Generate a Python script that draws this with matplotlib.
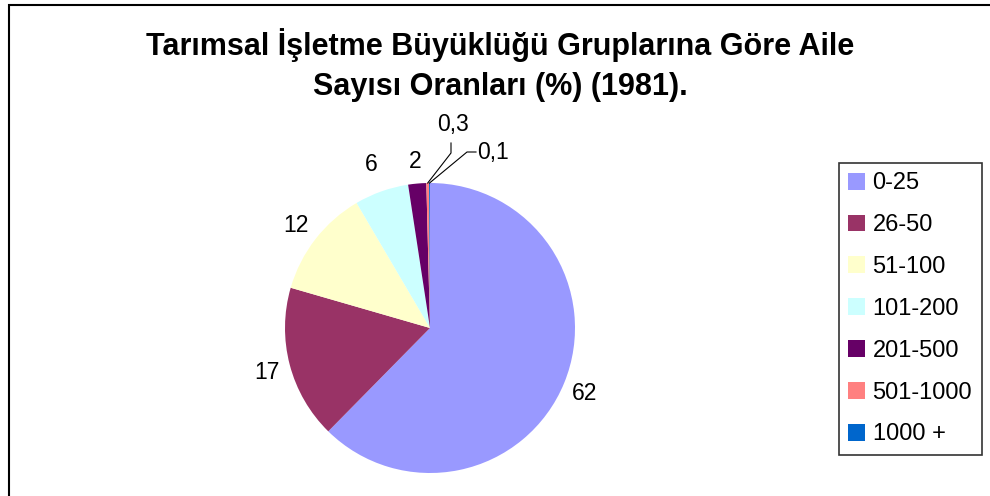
import numpy as np
import matplotlib
matplotlib.use("Agg")
import matplotlib.pyplot as plt
from matplotlib.patches import Rectangle

plt.rcParams['font.family'] = ['Liberation Sans', 'DejaVu Sans']

# Share of families by holding size group (%), 1981
groups = ['0-25', '26-50', '51-100', '101-200', '201-500', '501-1000', '1000 +']
shares = [62, 17, 12, 6, 2, 0.3, 0.1]
share_labels = ['62', '17', '12', '6', '2', '0,3', '0,1']
colors = ['#9999FF', '#993366', '#FFFFCC', '#CCFFFF', '#660066', '#FF8080', '#0066CC']

title = 'Tarımsal İşletme Büyüklüğü Gruplarına Göre Aile\nSayısı Oranları (%) (1981).'

W, H = 990, 496
fig = plt.figure(figsize=(W / 100, H / 100), dpi=100)
ax = fig.add_axes([0, 0, 1, 1])

cx, cy, r = 430, 168, 145
wedges, _ = ax.pie(shares, colors=colors, startangle=90, counterclock=False,
                   center=(cx, cy), radius=r, frame=True,
                   wedgeprops=dict(linewidth=0))
ax.set_xlim(0, W)
ax.set_ylim(0, H)
ax.set_aspect('equal')
ax.axis('off')

label_fs = 16.5

# value labels around the pie
dist = [1.15, 1.16, 1.17, 1.21, 1.17]
for w, lab, d in zip(wedges[:5], share_labels[:5], dist):
    ang = np.deg2rad((w.theta1 + w.theta2) / 2)
    ax.text(cx + r * d * np.cos(ang), cy + r * d * np.sin(ang) - 2, lab,
            ha='center', va='center', fontsize=label_fs)

# tiny slices get leader lines
def edge_point(w):
    ang = np.deg2rad((w.theta1 + w.theta2) / 2)
    return cx + r * np.cos(ang), cy + r * np.sin(ang)

x0, y0 = edge_point(wedges[5])
ax.plot([x0, 451, 451], [y0, 343, 353], color='black', lw=0.8)
ax.text(453, 372, share_labels[5], ha='center', va='center', fontsize=label_fs)

x1, y1 = edge_point(wedges[6])
ax.plot([x1, 467, 476], [y1, 344, 344], color='black', lw=0.8)
ax.text(477, 344, share_labels[6], ha='left', va='center', fontsize=label_fs)

# title
fig.text(0.505, 1 - 65 / H, title, ha='center', va='center', fontsize=22,
         fontweight='bold', linespacing=1.47)

# chart border
ax.add_patch(Rectangle((9, -20), W + 20, H - 5 + 20, fill=False,
                       edgecolor='black', lw=1.5, clip_on=False))

leg = ax.legend(wedges, groups, loc='upper left', bbox_to_anchor=(839, H - 163),
                bbox_transform=ax.transData, borderaxespad=0, fontsize=17,
                handlelength=0.72, handleheight=0.72, handletextpad=0.3,
                labelspacing=0.84, borderpad=0.4, fancybox=False,
                frameon=True, edgecolor='black')
leg.get_frame().set_linewidth(1.2)

fig.savefig('out.png', dpi=100)
